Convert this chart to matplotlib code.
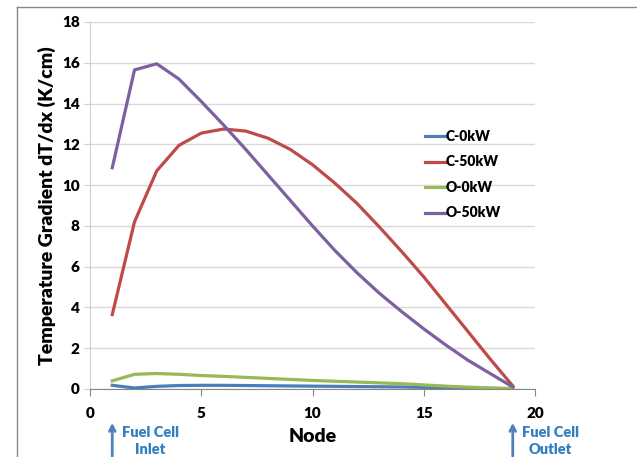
import matplotlib.pyplot as plt
from matplotlib.lines import Line2D

plt.rcParams['font.family'] = ['Lato', 'DejaVu Sans']

nodes = list(range(1, 20))
c_0kw = [0.18, 0.05, 0.13, 0.17, 0.18, 0.18, 0.17, 0.16, 0.15, 0.14,
         0.13, 0.12, 0.11, 0.10, 0.08, 0.06, 0.05, 0.03, 0.02]
c_50kw = [3.65, 8.2, 10.7, 11.95, 12.55, 12.75, 12.65, 12.3, 11.75, 11.0,
          10.1, 9.1, 7.95, 6.75, 5.5, 4.15, 2.8, 1.45, 0.15]
o_0kw = [0.4, 0.72, 0.76, 0.72, 0.66, 0.62, 0.57, 0.52, 0.47, 0.42,
         0.38, 0.34, 0.3, 0.26, 0.2, 0.14, 0.09, 0.05, 0.02]
o_50kw = [10.85, 15.65, 15.95, 15.2, 14.1, 12.95, 11.75, 10.5, 9.25, 8.0,
          6.8, 5.7, 4.7, 3.8, 2.95, 2.15, 1.4, 0.75, 0.1]

fig = plt.figure(figsize=(6.37, 4.57), dpi=100)
ax = fig.add_axes([0.1413, 0.1488, 0.6986, 0.8031])

lw = 2.3
ax.plot(nodes, c_0kw, color='#4A7EBB', lw=lw, label='C-0kW')
ax.plot(nodes, c_50kw, color='#BE4B48', lw=lw, label='C-50kW')
ax.plot(nodes, o_0kw, color='#98B954', lw=lw, label='O-0kW')
ax.plot(nodes, o_50kw, color='#7D60A0', lw=lw, label='O-50kW')

ax.set_xlim(0, 20)
ax.set_ylim(0, 18)
ax.set_xticks([0, 5, 10, 15, 20])
ax.set_yticks(range(0, 19, 2))
ax.grid(axis='y', color='#D9D9D9', lw=1)
ax.set_axisbelow(True)
for s in ['top', 'right']:
    ax.spines[s].set_visible(False)
ax.spines['left'].set_color('#D0D0D0')
ax.spines['bottom'].set_color('#868686')
ax.tick_params(axis='y', colors='#D0D0D0', labelcolor='black', length=4)
ax.tick_params(axis='x', colors='#868686', labelcolor='black', length=5)
for lab in ax.get_xticklabels() + ax.get_yticklabels():
    lab.set_fontweight('heavy')
    lab.set_fontsize(11)
ax.tick_params(axis='x', pad=8)

ax.set_xlabel('Node', fontsize=14, fontweight='heavy', labelpad=6)
ax.set_ylabel('Temperature Gradient dT/dx (K/cm)', fontsize=14, fontweight='heavy', labelpad=4)

ax.legend(loc='upper left', bbox_to_anchor=(0.725, 0.74), frameon=False,
          handlelength=1.4, handletextpad=0.05, labelspacing=0.9,
          prop={'weight': 'heavy', 'size': 10})

# inlet / outlet markers
blue = '#2F7FC1'
for xn, txt, tx in [(1, 'Fuel Cell\nInlet', 2.7), (19, 'Fuel Cell\nOutlet', 20.7)]:
    ax.annotate('', xy=(xn, 37), xytext=(xn, -2), xycoords=('data', 'figure pixels'),
                textcoords=('data', 'figure pixels'),
                arrowprops=dict(arrowstyle='->', color='#4F81BD', lw=2), annotation_clip=False)
    ax.annotate(txt, xy=(tx, 16), xycoords=('data', 'figure pixels'), ha='center',
                va='center', color=blue, fontsize=10.5, fontweight='heavy',
                linespacing=1.35, annotation_clip=False)

# outer frame
fig.add_artist(Line2D([0.0267, 0.0267], [0, 0.9847], color='#888888', lw=1))
fig.add_artist(Line2D([0.0267, 1], [0.9847, 0.9847], color='#888888', lw=1))

fig.savefig('out.png', dpi=100)
